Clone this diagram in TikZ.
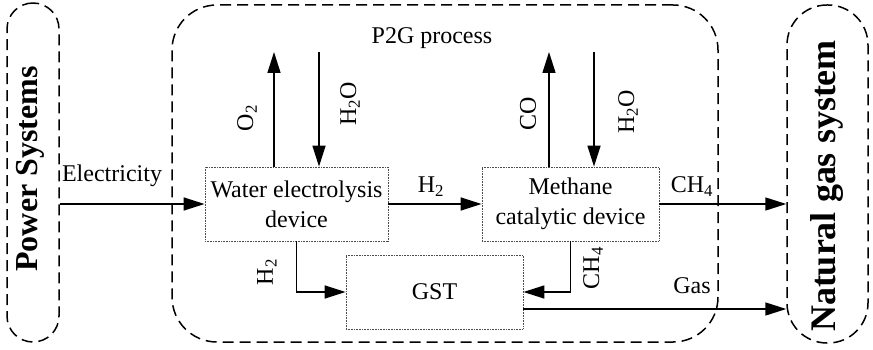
\documentclass[tikz,border=0pt]{standalone}
\usepackage{fontspec}
\setmainfont{Liberation Serif}
\usepackage{graphicx}
\usetikzlibrary{positioning, arrows.meta}

\begin{document}
\begin{tikzpicture}[
    x=1pt, y=-1pt,
    font=\fontsize{24}{30}\selectfont,
    >={Triangle[length=21pt, width=13pt]},
    sysbox/.style={draw, dash pattern=on 11pt off 6pt, line width=1.5pt},
    systext/.style={rotate=90, font=\bfseries, inner sep=0pt},
    unitbox/.style={draw=black!70, dash pattern=on 0.8pt off 0.8pt, line width=0.8pt,
        align=center, inner sep=2pt},
    flow/.style={->, line width=1.5pt},
    lbl/.style={inner sep=0pt},
    rlbl/.style={rotate=90, inner sep=0pt}
  ]
    \useasboundingbox (0,0) rectangle (873,350);
    % outer systems
    \node[sysbox, rounded corners=26pt, minimum width=52pt, minimum height=339pt] (power) at (33,172.5) {};
    \node[systext, font=\fontsize{32}{36}\bfseries] (powertxt) at (30,169) {Power Systems};
    \node[sysbox, rounded corners=40pt, minimum width=81pt, minimum height=338pt] (ngas) at (827.5,174) {};
    \node[systext, font=\fontsize{36}{40}\bfseries] (ngastxt) at (827,186) {Natural gas system};
    \node[sysbox, rounded corners=45pt, minimum width=546pt, minimum height=337pt] (p2g) at (445,173.5) {};
    \node[lbl, anchor=base] (p2gtxt) at (432,44) {P2G process};
    % devices
    \node[unitbox, minimum width=183pt, minimum height=74pt] (water) at (296.5,204) {Water electrolysis\\device};
    \node[unitbox, minimum width=177pt, minimum height=74pt] (meth) at (570.5,204) {Methane\\catalytic device};
    \node[unitbox, minimum width=177pt, minimum height=74pt] (gst) at (434.5,292) {GST};
    % main flows
    \draw[flow] (power.east |- water.west) -- (water.west);
    \draw[flow] (water.east) -- (meth.west);
    \draw[flow] (meth.east) -- (ngas.west |- meth.east);
    \coordinate (gasout) at ([yshift=-17pt]gst.east);
    \draw[flow] (gasout) -- (ngas.west |- gasout);
    \draw[flow] (water.south) |- (gst.west);
    \draw[flow] (meth.south) |- (gst.east);
    % inputs and outputs at the top
    \coordinate (o2top) at (274,52);
    \coordinate (h2oa) at (319,52);
    \coordinate (cotop) at (549,52);
    \coordinate (h2ob) at (594,52);
    \draw[flow] (o2top |- water.north) -- (o2top);
    \draw[flow] (h2oa) -- (h2oa |- water.north);
    \draw[flow] (cotop |- meth.north) -- (cotop);
    \draw[flow] (h2ob) -- (h2ob |- meth.north);
    % labels
    \node[lbl, anchor=base] (lelec) at (112,182) {Electricity};
    \node[lbl, anchor=base] (lh2a) at (431,193) {H\textsubscript{2}};
    \node[lbl, anchor=base] (lch4a) at (692,193) {CH\textsubscript{4}};
    \node[lbl, anchor=base] (lgas) at (692,293) {Gas};
    \node[rlbl] (lo2) at (247,118) {O\textsubscript{2}};
    \node[rlbl] (lh2ob) at (350,104) {H\textsubscript{2}O};
    \node[rlbl] (lco) at (528,114) {CO};
    \node[rlbl] (lh2oc) at (628,112) {H\textsubscript{2}O};
    \node[rlbl] (lh2c) at (267,272) {H\textsubscript{2}};
    \node[rlbl] (lch4b) at (593,268) {CH\textsubscript{4}};
  \end{tikzpicture}
\end{document}
